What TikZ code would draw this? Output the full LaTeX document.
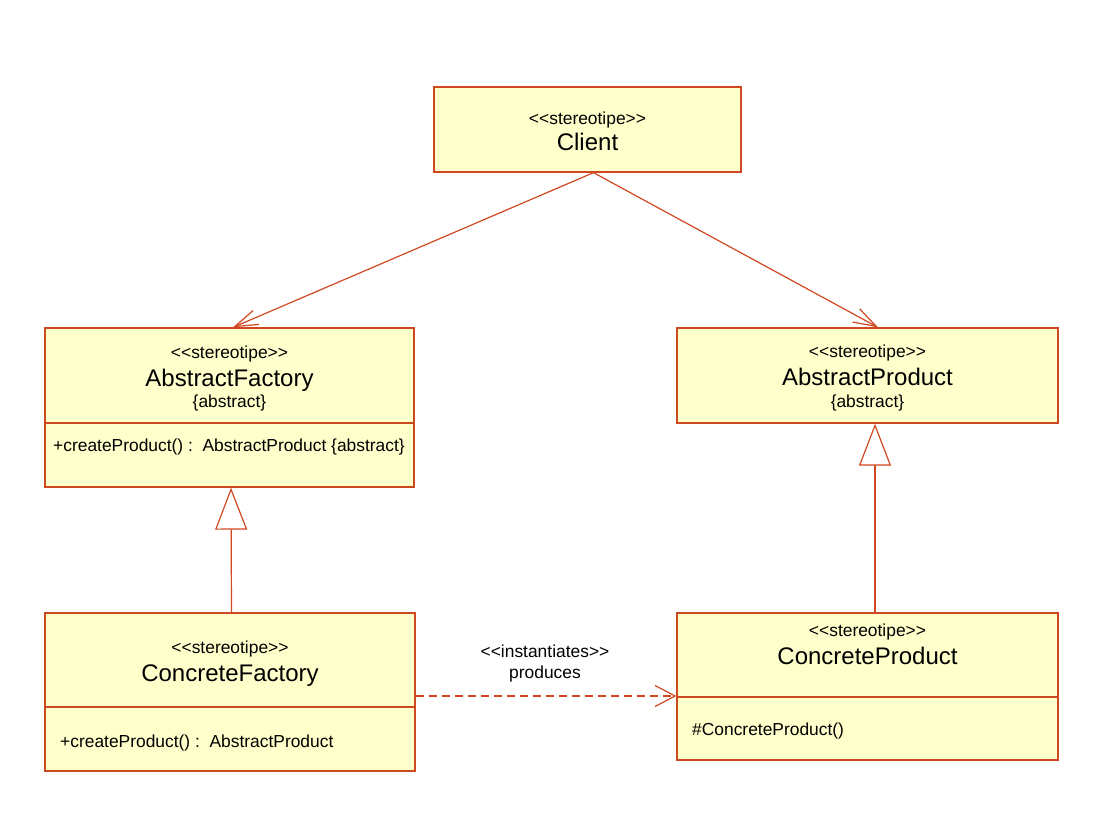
\documentclass[tikz,border=0pt]{standalone}
\usepackage{fontspec}
\setmainfont{Liberation Sans}
\usetikzlibrary{arrows.meta}
\definecolor{umlline}{RGB}{208,72,32}
\definecolor{umlfill}{RGB}{255,255,204}
\newcommand{\smalltxt}{\fontsize{17.4}{20}\selectfont}
\newcommand{\bigtxt}{\fontsize{24}{28}\selectfont}
% guillemet-free double angle brackets
\newcommand{\dlt}{<\kern0pt<}
\newcommand{\dgt}{>\kern0pt>}
\tikzset{
  classbox/.style={draw=umlline, fill=umlfill, line width=1.3pt, rectangle, inner sep=0pt},
  stereo/.style={anchor=base, inner sep=0pt, font=\smalltxt},
  cname/.style={anchor=base, inner sep=0pt, font=\bigtxt},
  member/.style={anchor=base west, inner sep=0pt, font=\smalltxt},
  divider/.style={draw=umlline, line width=1.3pt},
  assoc/.style={draw=umlline, line width=1.2pt, -{Straight Barb[length=23pt, width=15pt, line width=1.2pt]}},
  generalize/.style={draw=umlline, line width=1.2pt, -{Triangle[open, length=42pt, width=32pt, fill=white, line width=1.2pt]}},
  depend/.style={draw=umlline, line width=1.2pt, dash pattern=on 8pt off 5pt, -{Straight Barb[length=20pt, width=21pt, line width=1.2pt]}}
}
\begin{document}
\begin{tikzpicture}[x=1pt, y=-1pt]
\useasboundingbox[fill=white] (0,0) rectangle (1105,823);

% Client
\node[classbox, minimum width=307pt, minimum height=85pt] (client) at (587.5,129.5) {};
\node[stereo] (clientst) at (587.5,124) {\dlt stereotipe\dgt};
\node[cname] (clientnm) at (587.5,150) {Client};

% AbstractFactory
\node[classbox, minimum width=369pt, minimum height=159pt] (af) at (229.5,407.5) {};
\node[stereo] (afst) at (229.5,358) {\dlt stereotipe\dgt};
\node[cname] (afnm) at (229.5,386) {AbstractFactory};
\node[stereo] (afab) at (229.5,407) {\{abstract\}};
\draw[divider] (af.west |- 0,423) -- (af.east |- 0,423);
\node[member] (afop) at (53,451) {+createProduct() :\ \ AbstractProduct \{abstract\}};

% AbstractProduct
\node[classbox, minimum width=381pt, minimum height=95pt] (ap) at (867.5,375.5) {};
\node[stereo] (apst) at (867.5,357) {\dlt stereotipe\dgt};
\node[cname] (apnm) at (867.5,385) {AbstractProduct};
\node[stereo] (apab) at (867.5,407) {\{abstract\}};

% ConcreteFactory
\node[classbox, minimum width=370pt, minimum height=158pt] (cf) at (230,692) {};
\node[stereo] (cfst) at (230,653) {\dlt stereotipe\dgt};
\node[cname] (cfnm) at (230,681) {ConcreteFactory};
\draw[divider] (cf.west |- 0,707) -- (cf.east |- 0,707);
\node[member] (cfop) at (60,747) {+createProduct() :\ \ AbstractProduct};

% ConcreteProduct
\node[classbox, minimum width=381pt, minimum height=147pt] (cp) at (867.5,686.5) {};
\node[stereo] (cpst) at (867.5,636) {\dlt stereotipe\dgt};
\node[cname] (cpnm) at (867.5,664) {ConcreteProduct};
\draw[divider] (cp.west |- 0,697) -- (cp.east |- 0,697);
\node[member] (cpop) at (692,735) {\#ConcreteProduct()};

% associations from Client
\coordinate (clientfoot) at ([xshift=6pt]client.south);
\draw[assoc] (clientfoot) -- ([xshift=3.5pt]af.north);
\draw[assoc] (clientfoot) -- ([xshift=10.5pt]ap.north);

% generalizations
\draw[generalize] ([xshift=1.5pt]cf.north) -- ([xshift=1.5pt]af.south);
\draw[generalize] ([xshift=7.5pt]cp.north) -- ([xshift=7.5pt]ap.south);

% dependency
\draw[depend] (cf.east |- 0,696) -- (cp.west |- 0,696);
\node[stereo] (depst) at (545,657) {\dlt instantiates\dgt};
\node[stereo] (depnm) at (545,678) {produces};
\end{tikzpicture}
\end{document}
